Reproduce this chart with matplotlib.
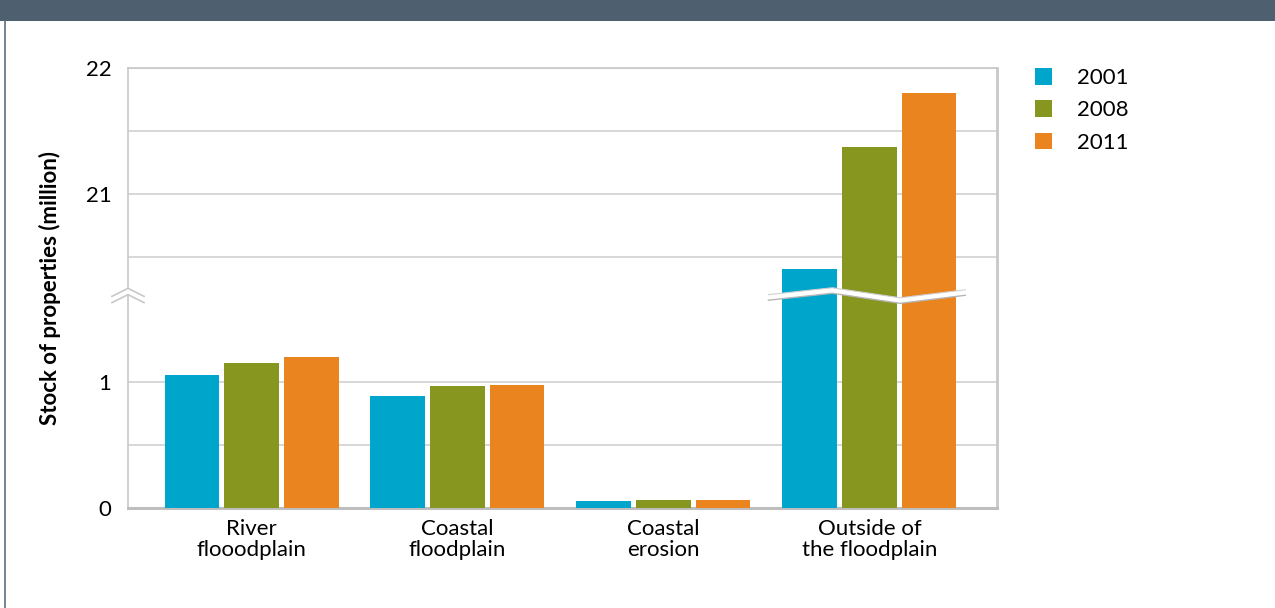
import numpy as np
import matplotlib
matplotlib.use("Agg")
import matplotlib.pyplot as plt
from matplotlib.patches import Rectangle, Polygon
from matplotlib.lines import Line2D

plt.rcParams['font.family'] = ['Lato', 'DejaVu Sans']

# data (million properties)
categories = ["River\nflooodplain", "Coastal\nfloodplain", "Coastal\nerosion", "Outside of\nthe floodplain"]
years = ["2001", "2008", "2011"]
stock_2001 = [1.06, 0.89, 0.055, 20.40]
stock_2008 = [1.15, 0.97, 0.06, 21.37]
stock_2011 = [1.20, 0.98, 0.06, 21.80]
colors = ["#00A5CB", "#86961E", "#E9841E"]

# broken axis: values above the break are shifted down
BREAK_SHIFT = 18.5


def to_axis(v):
    v = np.asarray(v, dtype=float)
    return np.where(v > 10, v - BREAK_SHIFT, v)


fig = plt.figure(figsize=(12.75, 6.08), dpi=100)
ax = fig.add_axes([128 / 1275, 1 - 508 / 608, (997 - 128) / 1275, (508 - 68) / 608])

x = np.arange(len(categories))
offset = 0.29
width = 0.265
bars = []
for i, (vals, c, yr) in enumerate(zip([stock_2001, stock_2008, stock_2011], colors, years)):
    b = ax.bar(x + (i - 1) * offset, to_axis(vals), width, color=c, label=yr, zorder=3)
    bars.append(b)

ax.set_xlim(-0.6, 3.62)
ax.set_ylim(0, 3.5)

tick_vals = [0, 1, 21, 22]
grid_vals = [0.5, 20.5, 21.5]
ax.set_yticks(to_axis(tick_vals))
ax.set_yticklabels([str(v) for v in tick_vals])
ax.set_yticks(to_axis(grid_vals), minor=True)
ax.grid(axis='y', which='both', color='#CDCDCD', linewidth=1.1, zorder=0)
ax.tick_params(axis='y', which='both', length=0, pad=12, labelsize=16)
ax.set_xticks(x)
ax.set_xticklabels(categories, fontsize=16, linespacing=1.08)
ax.tick_params(axis='x', length=0, pad=8)

for s in ax.spines.values():
    s.set_color('#C8C8C8')
    s.set_linewidth(1.2)
ax.spines['bottom'].set_linewidth(2.2)
ax.spines['bottom'].set_color('#BEBEBE')
ax.spines['right'].set_linewidth(2.0)

ax.set_ylabel("Stock of properties (million)", fontsize=16, fontweight='bold')
ax.yaxis.set_label_coords(-0.077, 0.5)

# break mark on the y axis
tr = ax.get_yaxis_transform()
yb = (508 - 295) / 126
dx = 16 / 869
dy = 4 / 126
ax.add_patch(Polygon([(-dx, yb - dy - 0.03), (0, yb + dy - 0.03), (dx, yb - dy - 0.03),
                      (dx, yb - dy + 0.03), (0, yb + dy + 0.03), (-dx, yb - dy + 0.03)],
                     closed=True, facecolor='white', edgecolor='none', transform=tr,
                     clip_on=False, zorder=5))
for d in (-0.025, 0.025):
    ax.add_line(Line2D([-dx, 0, dx], [yb - dy + d, yb + dy + d, yb - dy + d],
                       color='#C8C8C8', lw=1.2, transform=tr, clip_on=False, zorder=6))

# break band across the tall bars
cx = x[-1]
zx = cx + np.array([-0.49, -0.18, 0.15, 0.466])
zy = np.array([1.675, 1.73, 1.65, 1.714])
h = 0.022
ax.add_patch(Polygon(np.column_stack([np.r_[zx, zx[::-1]], np.r_[zy - h, (zy + h)[::-1]]]),
                     closed=True, facecolor='white', edgecolor='none', zorder=6))
ax.plot(zx, zy - h, color='#B5B5B5', lw=1.0, zorder=7)
ax.plot(zx, zy + h, color='#D0D0D0', lw=0.8, zorder=7)

# legend
fig.legend(handles=bars, labels=years, loc='upper left',
           bbox_to_anchor=(1015 / 1275, 1 - 48 / 608), frameon=False, fontsize=16,
           handlelength=0.78, handleheight=0.78, labelspacing=0.55, handletextpad=1.1)

# header bar and frame line
fig.add_artist(Rectangle((0, 1 - 21 / 608), 1, 21 / 608, transform=fig.transFigure,
                         facecolor='#4E6070', edgecolor='none'))
fig.add_artist(Line2D([5 / 1275, 5 / 1275], [0, 1 - 21 / 608], transform=fig.transFigure,
                      color='#5F6F7D', lw=1.2))

fig.savefig("out.png", dpi=100)
